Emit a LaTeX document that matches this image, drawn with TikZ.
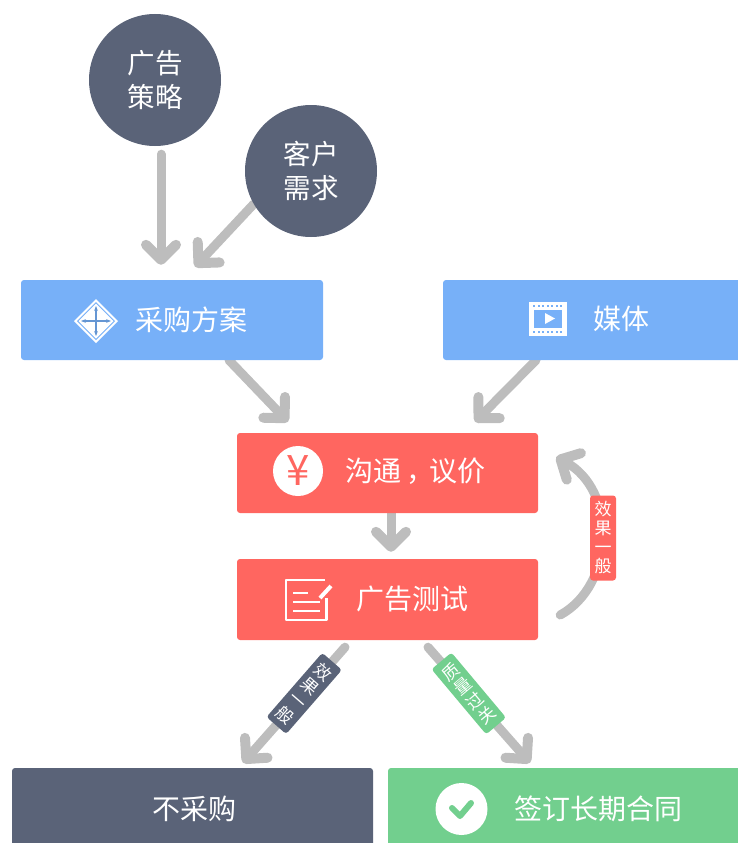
\documentclass[tikz,border=0pt]{standalone}
\usepackage{fontspec}
\setmainfont{Noto Sans CJK SC}
\usetikzlibrary{arrows.meta}
\pgfdeclarelayer{bg}
\pgfsetlayers{bg,main}
\definecolor{bluebox}{HTML}{77B0F8}
\definecolor{redbox}{HTML}{FF6660}
\definecolor{darkbox}{HTML}{5A6378}
\definecolor{greenbox}{HTML}{72CF8E}
\definecolor{arwgray}{HTML}{BDBDBD}

\begin{document}
\begin{tikzpicture}[x=1pt, y=-1pt,
  box/.style={rounded corners=3pt, inner sep=0pt},
  dot/.style={circle, fill=darkbox, text=white, minimum size=132pt, inner sep=0pt, align=center, font=\fontsize{27.5}{34}\selectfont},
  txt/.style={text=white, inner sep=0pt, font=\fontsize{28}{34}\selectfont},
  lbl/.style={rounded corners=3pt, inner sep=0pt, text=white, minimum width=26pt, minimum height=85pt, align=center, font=\fontsize{17}{19}\selectfont},
  arw/.style={draw=arwgray, line width=9pt, line cap=round, line join=round, -{Straight Barb[round, length=15pt, width=30pt, line width=10pt]}},
  icon/.style={draw=white, line width=2.5pt, line join=round}]
\useasboundingbox (0,0) rectangle (738,843);
\begin{scope}
\clip (0,0) rectangle (738,843);
\node[dot] (ad) at (155,80) {广告\\策略};
\node[dot] (client) at (311,171) {客户\\需求};
\node[box, fill=bluebox, minimum width=302pt, minimum height=80pt] (plan) at (172,320) {};
\node[box, fill=bluebox, minimum width=320pt, minimum height=80pt] (media) at (603,320) {};
\node[box, fill=redbox, minimum width=301pt, minimum height=80pt] (talk) at (387.5,473) {};
\node[box, fill=redbox, minimum width=301pt, minimum height=81pt] (test) at (387.5,599.5) {};
\node[box, fill=darkbox, minimum width=361pt, minimum height=100pt] (nobuy) at (192.5,818) {};
\node[box, fill=greenbox, minimum width=370pt, minimum height=100pt] (sign) at (573,818) {};
\end{scope}

\node[txt] (plantxt) at (191,320) {采购方案};
\node[txt] (mediatxt) at (621,319) {媒体};
\node[txt] (talktxt) at (415,471) {沟通\hspace{6pt}，\hspace{-6pt}议价};
\node[txt] (testtxt) at (412,599) {广告测试};
\node[txt] (nobuytxt) at (194,809) {不采购};
\node[txt] (signtxt) at (598,809) {签订长期合同};

\begin{pgfonlayer}{bg}
\draw[arw] ([xshift=6pt,yshift=-8pt]ad.south) -- ([xshift=-11pt,yshift=15pt]plan.north);
\draw[arw] (client.-150) -- ([xshift=23pt,yshift=13pt]plan.north);
\draw[arw] ([xshift=57pt]plan.south) -- ([xshift=-99.5pt,yshift=11pt]talk.north);
\draw[arw] ([xshift=-67pt]media.south) -- ([xshift=87.5pt,yshift=11pt]talk.north);
\draw[arw] ([xshift=3.5pt]talk.south) -- ([xshift=3.5pt,yshift=7pt]test.north);
\draw[arw] ([xshift=22pt,yshift=-15.5pt]test.east) .. controls (615,585) and (618,490) .. ([xshift=18pt,yshift=16pt]talk.east);
\node[lbl, fill=redbox] (backlbl) at (603,538) {效\\果\\一\\般};
\draw[arw] ([xshift=-42.5pt,yshift=-7pt]test.south) -- node[lbl, fill=darkbox, pos=.4, rotate=-41] (nobuylbl) {效\\果\\一\\般} ([xshift=50.5pt,yshift=5pt]nobuy.north);
\draw[arw] ([xshift=40.5pt,yshift=-7pt]test.south) -- node[lbl, fill=greenbox, pos=.4, rotate=40] (signlbl) {质\\量\\过\\关} ([xshift=-43pt,yshift=5pt]sign.north);
\end{pgfonlayer}

\fill[white] (96,299) -- (118,321) -- (96,343) -- (74,321) -- cycle;
\fill[bluebox] (96,302) -- (115,321) -- (96,340) -- (77,321) -- cycle;
\fill[white] (96,303.5) -- (113.5,321) -- (96,338.5) -- (78.5,321) -- cycle;
\draw[bluebox!85!black, line width=1.5pt, {Stealth[length=5pt]}-{Stealth[length=5pt]}] (96,306) -- (96,336);
\draw[bluebox!85!black, line width=1.5pt, {Stealth[length=5pt]}-{Stealth[length=5pt]}] (81,321) -- (111,321);

\fill[white] (529,302) rectangle (567,336);
\fill[bluebox] (534,310) rectangle (562,327.5);
\foreach \x in {533,537.5,...,563} {
  \fill[bluebox] (\x,304.5) rectangle +(2,2);
  \fill[bluebox] (\x,331) rectangle +(2,2);
}
\fill[white] (545,313) -- (555,318.5) -- (545,324) -- cycle;

\node[circle, fill=white, text=redbox, minimum size=50pt, inner sep=0pt, font=\fontsize{42}{42}\selectfont] (yen) at (298,471) {¥};

\draw[icon] (325,580) -- (286,580) -- (286,620) -- (326.5,620) -- (326.5,598);
\draw[icon] (293,593) -- (308,593);
\draw[icon] (293,602) -- (320,602);
\draw[icon] (293,611) -- (320,611);
\draw[draw=white, line width=4pt] (331,586) -- (320,598);

\node[circle, fill=white, minimum size=52pt, inner sep=0pt] (okdot) at (461.5,809) {};
\draw[greenbox, line width=6pt, line cap=round, line join=round] (452,808) -- (460,816) -- (471,803);
\end{tikzpicture}
\end{document}
